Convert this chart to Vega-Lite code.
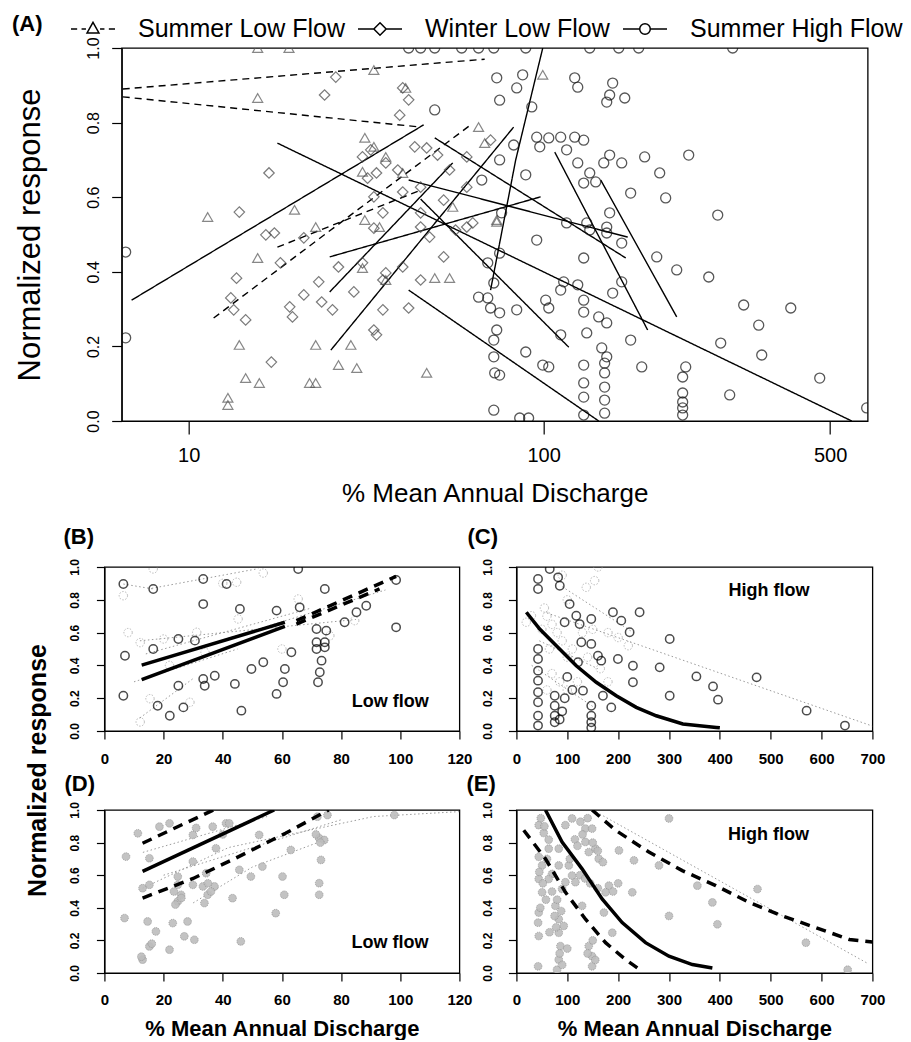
{
"$schema":"https://vega.github.io/schema/vega-lite/v6.json",
"padding":{"left":12,"top":6,"right":4,"bottom":0},
"background":"white",
"config":{
 "font":"Liberation Sans",
 "view":{"stroke":"#000","strokeWidth":1.3},
 "axis":{"grid":false,"domainColor":"#000","tickColor":"#000","labelColor":"#000","titleColor":"#000","labelFont":"Liberation Sans","titleFont":"Liberation Sans","labelOverlap":false,"labelFlush":false,"domainWidth":1.2,"tickWidth":1.2},
 "title":{"color":"#000","font":"Liberation Sans"}
},
"datasets":{
 "a_pts":[
  {"s":"Summer High Flow","x":45.1,"y":1},{"s":"Summer High Flow","x":48.5,"y":1},{"s":"Summer High Flow","x":52.8,"y":1},{"s":"Summer High Flow","x":62,"y":1},{"s":"Summer High Flow","x":68.5,"y":1},{"s":"Summer High Flow","x":74.9,"y":1},{"s":"Summer High Flow","x":90.2,"y":1},{"s":"Summer High Flow","x":130.2,"y":1},{"s":"Summer High Flow","x":153.5,"y":1},{"s":"Summer High Flow","x":171.8,"y":1},{"s":"Summer High Flow","x":291,"y":1},
  {"s":"Summer High Flow","x":76.2,"y":0.92},{"s":"Summer High Flow","x":88.6,"y":0.928},{"s":"Summer High Flow","x":85.6,"y":0.893},{"s":"Summer High Flow","x":77.5,"y":0.86},{"s":"Summer High Flow","x":93.4,"y":0.842},{"s":"Summer High Flow","x":52.8,"y":0.834},{"s":"Summer High Flow","x":119.5,"y":0.92},{"s":"Summer High Flow","x":121.6,"y":0.895},{"s":"Summer High Flow","x":148.3,"y":0.906},{"s":"Summer High Flow","x":145.8,"y":0.874},{"s":"Summer High Flow","x":158.8,"y":0.866},{"s":"Summer High Flow","x":143.4,"y":0.855},
  {"s":"Summer High Flow","x":96.1,"y":0.761},{"s":"Summer High Flow","x":103,"y":0.759},{"s":"Summer High Flow","x":110.3,"y":0.761},{"s":"Summer High Flow","x":119.5,"y":0.761},{"s":"Summer High Flow","x":125.8,"y":0.753},{"s":"Summer High Flow","x":97.8,"y":0.735},{"s":"Summer High Flow","x":114.1,"y":0.727},{"s":"Summer High Flow","x":84.1,"y":0.74},{"s":"Summer High Flow","x":145.8,"y":0.713},{"s":"Summer High Flow","x":141,"y":0.692},{"s":"Summer High Flow","x":156.1,"y":0.692},{"s":"Summer High Flow","x":177.7,"y":0.708},{"s":"Summer High Flow","x":227.6,"y":0.713},{"s":"Summer High Flow","x":121.6,"y":0.692},{"s":"Summer High Flow","x":193.4,"y":0.665},{"s":"Summer High Flow","x":130.2,"y":0.665},{"s":"Summer High Flow","x":134.7,"y":0.641},{"s":"Summer High Flow","x":125.8,"y":0.638},{"s":"Summer High Flow","x":164.2,"y":0.611},{"s":"Summer High Flow","x":200,"y":0.598},{"s":"Summer High Flow","x":145.8,"y":0.558},{"s":"Summer High Flow","x":267.7,"y":0.552},{"s":"Summer High Flow","x":69.8,"y":0.646},{"s":"Summer High Flow","x":77.5,"y":0.7},{"s":"Summer High Flow","x":90.2,"y":0.66},{"s":"Summer High Flow","x":78.4,"y":0.558},{"s":"Summer High Flow","x":130.2,"y":0.512},{"s":"Summer High Flow","x":143.4,"y":0.504},
  {"s":"Summer High Flow","x":5.62,"y":0.453},{"s":"Summer High Flow","x":5.62,"y":0.223},{"s":"Summer High Flow","x":128,"y":0.531},{"s":"Summer High Flow","x":143.4,"y":0.52},{"s":"Summer High Flow","x":156.1,"y":0.477},{"s":"Summer High Flow","x":190.2,"y":0.44},{"s":"Summer High Flow","x":212.8,"y":0.405},{"s":"Summer High Flow","x":254.6,"y":0.386},{"s":"Summer High Flow","x":309.4,"y":0.311},{"s":"Summer High Flow","x":402,"y":0.303},{"s":"Summer High Flow","x":336.4,"y":0.257},{"s":"Summer High Flow","x":272.2,"y":0.209},{"s":"Summer High Flow","x":342.1,"y":0.177},{"s":"Summer High Flow","x":472,"y":0.115},{"s":"Summer High Flow","x":286.2,"y":0.07},{"s":"Summer High Flow","x":612,"y":0.035},
  {"s":"Summer High Flow","x":125.8,"y":0.437},{"s":"Summer High Flow","x":121.6,"y":0.365},{"s":"Summer High Flow","x":125.8,"y":0.292},{"s":"Summer High Flow","x":128,"y":0.236},{"s":"Summer High Flow","x":125.8,"y":0.15},{"s":"Summer High Flow","x":125.8,"y":0.102},{"s":"Summer High Flow","x":125.8,"y":0.064},{"s":"Summer High Flow","x":125.8,"y":0.016},{"s":"Summer High Flow","x":139.4,"y":0.196},{"s":"Summer High Flow","x":141.7,"y":0.155},{"s":"Summer High Flow","x":141.7,"y":0.129},{"s":"Summer High Flow","x":141.7,"y":0.091},{"s":"Summer High Flow","x":141.7,"y":0.056},{"s":"Summer High Flow","x":141.7,"y":0.021},{"s":"Summer High Flow","x":143.4,"y":0.172},{"s":"Summer High Flow","x":164.2,"y":0.217},{"s":"Summer High Flow","x":174.8,"y":0.145},{"s":"Summer High Flow","x":223.8,"y":0.145},{"s":"Summer High Flow","x":220,"y":0.118},{"s":"Summer High Flow","x":220,"y":0.075},{"s":"Summer High Flow","x":220,"y":0.051},{"s":"Summer High Flow","x":220,"y":0.035},{"s":"Summer High Flow","x":220,"y":0.016},
  {"s":"Summer High Flow","x":110.3,"y":0.351},{"s":"Summer High Flow","x":112.2,"y":0.373},{"s":"Summer High Flow","x":101.2,"y":0.324},{"s":"Summer High Flow","x":103,"y":0.303},{"s":"Summer High Flow","x":110.3,"y":0.231},{"s":"Summer High Flow","x":125.8,"y":0.324},{"s":"Summer High Flow","x":137,"y":0.279},{"s":"Summer High Flow","x":143.4,"y":0.263},{"s":"Summer High Flow","x":148.3,"y":0.343},{"s":"Summer High Flow","x":156.1,"y":0.373},{"s":"Summer High Flow","x":90.2,"y":0.185},{"s":"Summer High Flow","x":99.5,"y":0.15},{"s":"Summer High Flow","x":103,"y":0.145},{"s":"Summer High Flow","x":74.9,"y":0.217},{"s":"Summer High Flow","x":76.2,"y":0.244},{"s":"Summer High Flow","x":74.9,"y":0.172},{"s":"Summer High Flow","x":75.3,"y":0.129},{"s":"Summer High Flow","x":77.5,"y":0.123},{"s":"Summer High Flow","x":74.9,"y":0.029},{"s":"Summer High Flow","x":87.1,"y":0.008},{"s":"Summer High Flow","x":91.7,"y":0.008},{"s":"Summer High Flow","x":68.5,"y":0.332},{"s":"Summer High Flow","x":72.3,"y":0.33},{"s":"Summer High Flow","x":77.5,"y":0.29},{"s":"Summer High Flow","x":73.5,"y":0.303},{"s":"Summer High Flow","x":85.6,"y":0.298},{"s":"Summer High Flow","x":74.9,"y":0.37},{"s":"Summer High Flow","x":72.3,"y":0.424},{"s":"Summer High Flow","x":77.5,"y":0.45},{"s":"Summer High Flow","x":96.1,"y":0.485},{"s":"Summer High Flow","x":114.1,"y":0.531},
  {"s":"Winter Low Flow","x":26.6,"y":0.874},{"s":"Winter Low Flow","x":28.6,"y":0.922},{"s":"Winter Low Flow","x":43.5,"y":0.893},{"s":"Winter Low Flow","x":45.1,"y":0.861},{"s":"Winter Low Flow","x":42.7,"y":0.82},{"s":"Winter Low Flow","x":46.8,"y":0.735},{"s":"Winter Low Flow","x":50.3,"y":0.732},{"s":"Winter Low Flow","x":53.7,"y":0.713},{"s":"Winter Low Flow","x":35.7,"y":0.727},{"s":"Winter Low Flow","x":33.9,"y":0.708},{"s":"Winter Low Flow","x":39.2,"y":0.692},{"s":"Winter Low Flow","x":37,"y":0.665},{"s":"Winter Low Flow","x":42.2,"y":0.673},{"s":"Winter Low Flow","x":35,"y":0.651},{"s":"Winter Low Flow","x":48.5,"y":0.627},{"s":"Winter Low Flow","x":43.5,"y":0.614},{"s":"Winter Low Flow","x":14.8,"y":0.56},{"s":"Winter Low Flow","x":18.3,"y":0.665},{"s":"Winter Low Flow","x":36.4,"y":0.601},{"s":"Winter Low Flow","x":38.5,"y":0.558},{"s":"Winter Low Flow","x":48.5,"y":0.558},{"s":"Winter Low Flow","x":66.2,"y":0.531},{"s":"Winter Low Flow","x":55.7,"y":0.592},{"s":"Winter Low Flow","x":63.9,"y":0.708},{"s":"Winter Low Flow","x":73.5,"y":0.753},{"s":"Winter Low Flow","x":57.7,"y":0.673},{"s":"Winter Low Flow","x":63.9,"y":0.627},
  {"s":"Winter Low Flow","x":19,"y":0.504},{"s":"Winter Low Flow","x":17.9,"y":0.499},{"s":"Winter Low Flow","x":23.2,"y":0.491},{"s":"Winter Low Flow","x":14.5,"y":0.383},{"s":"Winter Low Flow","x":13.9,"y":0.33},{"s":"Winter Low Flow","x":14.2,"y":0.298},{"s":"Winter Low Flow","x":15.5,"y":0.271},{"s":"Winter Low Flow","x":21.1,"y":0.306},{"s":"Winter Low Flow","x":21.5,"y":0.279},{"s":"Winter Low Flow","x":23.2,"y":0.338},{"s":"Winter Low Flow","x":25.6,"y":0.373},{"s":"Winter Low Flow","x":26.1,"y":0.319},{"s":"Winter Low Flow","x":28,"y":0.298},{"s":"Winter Low Flow","x":32.1,"y":0.346},{"s":"Winter Low Flow","x":38.5,"y":0.378},{"s":"Winter Low Flow","x":39.2,"y":0.397},{"s":"Winter Low Flow","x":43.5,"y":0.413},{"s":"Winter Low Flow","x":48.5,"y":0.378},{"s":"Winter Low Flow","x":45.1,"y":0.303},{"s":"Winter Low Flow","x":36.4,"y":0.244},{"s":"Winter Low Flow","x":37,"y":0.231},{"s":"Winter Low Flow","x":38.5,"y":0.298},{"s":"Winter Low Flow","x":18.6,"y":0.158},{"s":"Winter Low Flow","x":55.7,"y":0.44},{"s":"Winter Low Flow","x":51.2,"y":0.493},{"s":"Winter Low Flow","x":19.8,"y":0.424},{"s":"Winter Low Flow","x":36.4,"y":0.517},{"s":"Winter Low Flow","x":48.5,"y":0.52},{"s":"Winter Low Flow","x":59.8,"y":0.512},{"s":"Winter Low Flow","x":63.9,"y":0.52},{"s":"Winter Low Flow","x":33.9,"y":0.424},{"s":"Winter Low Flow","x":29.1,"y":0.413},
  {"s":"Summer Low Flow","x":16.9,"y":0.866},{"s":"Summer Low Flow","x":11.65,"y":0.547},{"s":"Summer Low Flow","x":21.8,"y":0.566},{"s":"Summer Low Flow","x":36.4,"y":0.941},{"s":"Summer Low Flow","x":44.3,"y":0.893},{"s":"Summer Low Flow","x":99.5,"y":0.928},{"s":"Summer Low Flow","x":68.5,"y":0.788},{"s":"Summer Low Flow","x":34.4,"y":0.759},{"s":"Summer Low Flow","x":36.4,"y":0.735},{"s":"Summer Low Flow","x":33.9,"y":0.668},{"s":"Summer Low Flow","x":71,"y":0.745},{"s":"Summer Low Flow","x":58.8,"y":0.574},{"s":"Summer Low Flow","x":76.2,"y":0.534},{"s":"Summer Low Flow","x":25.1,"y":0.52},{"s":"Summer Low Flow","x":43.5,"y":0.665},{"s":"Summer Low Flow","x":39.2,"y":0.708},{"s":"Summer Low Flow","x":16.9,"y":0.437},{"s":"Summer Low Flow","x":14.8,"y":0.204},{"s":"Summer Low Flow","x":15.5,"y":0.115},{"s":"Summer Low Flow","x":17.1,"y":0.102},{"s":"Summer Low Flow","x":13.6,"y":0.062},{"s":"Summer Low Flow","x":13.6,"y":0.043},{"s":"Summer Low Flow","x":24.1,"y":0.102},{"s":"Summer Low Flow","x":25.1,"y":0.102},{"s":"Summer Low Flow","x":25.1,"y":0.204},{"s":"Summer Low Flow","x":31.5,"y":0.204},{"s":"Summer Low Flow","x":29.1,"y":0.15},{"s":"Summer Low Flow","x":32.7,"y":0.142},{"s":"Summer Low Flow","x":50.3,"y":0.129},{"s":"Summer Low Flow","x":52.8,"y":0.383},{"s":"Summer Low Flow","x":57.7,"y":0.383},{"s":"Summer Low Flow","x":33.9,"y":0.41},{"s":"Summer Low Flow","x":39.2,"y":0.378},{"s":"Summer Low Flow","x":76.2,"y":0.539},{"s":"Summer Low Flow","x":34.4,"y":0.539},{"s":"Summer Low Flow","x":37.7,"y":0.52},{"s":"Summer Low Flow","x":16.9,"y":1},{"s":"Summer Low Flow","x":21,"y":1}
 ],
 "a_lines":[
  {"id":"S1","st":"solid","x":5.97,"y":0.324},{"id":"S1","st":"solid","x":49.4,"y":0.794},
  {"id":"S2","st":"solid","x":19.4,"y":0.745},{"id":"S2","st":"solid","x":563.5,"y":0.0},
  {"id":"S3","st":"solid","x":27.5,"y":0.44},{"id":"S3","st":"solid","x":98.3,"y":0.601},
  {"id":"S4","st":"solid","x":27.5,"y":0.346},{"id":"S4","st":"solid","x":58.8,"y":0.692},
  {"id":"S5","st":"solid","x":27.7,"y":0.19},{"id":"S5","st":"solid","x":84.1,"y":0.788},
  {"id":"S6","st":"solid","x":45.1,"y":0.351},{"id":"S6","st":"solid","x":137,"y":0.0},
  {"id":"S7","st":"solid","x":48.5,"y":0.595},{"id":"S7","st":"solid","x":115.5,"y":0.198},
  {"id":"S8","st":"solid","x":45.1,"y":0.646},{"id":"S8","st":"solid","x":161.5,"y":0.493},
  {"id":"S9","st":"solid","x":52.8,"y":0.759},{"id":"S9","st":"solid","x":159.7,"y":0.437},
  {"id":"S10","st":"solid","x":106.6,"y":0.721},{"id":"S10","st":"solid","x":180.7,"y":0.244},
  {"id":"S11","st":"solid","x":138.6,"y":0.646},{"id":"S11","st":"solid","x":212.8,"y":0.279},
  {"id":"S12","st":"solid","x":73.5,"y":0.351},{"id":"S12","st":"solid","x":85.1,"y":0.7},{"id":"S12","st":"solid","x":99.5,"y":1.0},
  {"id":"D1","st":"dashed","x":5.45,"y":0.89},{"id":"D1","st":"dashed","x":71,"y":0.97},
  {"id":"D2","st":"dashed","x":5.45,"y":0.869},{"id":"D2","st":"dashed","x":48.5,"y":0.788},
  {"id":"D3","st":"dashed","x":12.2,"y":0.276},{"id":"D3","st":"dashed","x":65.4,"y":0.794},
  {"id":"D4","st":"dashed","x":19.4,"y":0.466},{"id":"D4","st":"dashed","x":48.5,"y":0.619}
 ],
 "b_pts":[
  {"k":"d","x":6.4,"y":0.896},{"k":"d","x":16.5,"y":0.866},{"k":"d","x":33.4,"y":0.927},{"k":"d","x":41.3,"y":0.896},{"k":"d","x":65.5,"y":0.988},{"k":"d","x":74.5,"y":0.866},{"k":"d","x":98.6,"y":0.921},{"k":"d","x":33.4,"y":0.774},{"k":"d","x":45.8,"y":0.744},{"k":"d","x":58.2,"y":0.734},{"k":"d","x":66,"y":0.754},{"k":"d","x":6.95,"y":0.459},{"k":"d","x":16.5,"y":0.5},{"k":"d","x":25,"y":0.561},{"k":"d","x":30.6,"y":0.551},{"k":"d","x":6.4,"y":0.215},{"k":"d","x":18,"y":0.154},{"k":"d","x":22.1,"y":0.093},{"k":"d","x":26.7,"y":0.144},{"k":"d","x":25,"y":0.276},{"k":"d","x":33.4,"y":0.317},{"k":"d","x":33.9,"y":0.276},{"k":"d","x":37.3,"y":0.337},{"k":"d","x":44.1,"y":0.287},{"k":"d","x":46.3,"y":0.124},{"k":"d","x":49.7,"y":0.378},{"k":"d","x":53.7,"y":0.419},{"k":"d","x":58.2,"y":0.226},{"k":"d","x":60.4,"y":0.297},{"k":"d","x":61,"y":0.378},{"k":"d","x":63.2,"y":0.48},{"k":"d","x":72.2,"y":0.297},{"k":"d","x":72.8,"y":0.358},{"k":"d","x":73.4,"y":0.429},{"k":"d","x":74.5,"y":0.51},{"k":"d","x":71.7,"y":0.5},{"k":"d","x":71.7,"y":0.622},{"k":"d","x":75,"y":0.612},{"k":"d","x":81.2,"y":0.663},{"k":"d","x":85.2,"y":0.724},{"k":"d","x":88.5,"y":0.764},{"k":"d","x":98.6,"y":0.632},{"k":"d","x":71.7,"y":0.541},{"k":"d","x":74.5,"y":0.541},
  {"k":"g","x":6.4,"y":0.825},{"k":"g","x":12.1,"y":0.539},{"k":"g","x":20,"y":0.561},{"k":"g","x":31.2,"y":0.602},{"k":"g","x":45.2,"y":0.683},{"k":"g","x":65.5,"y":0.805},{"k":"g","x":15.4,"y":0.197},{"k":"g","x":12.1,"y":0.055},{"k":"g","x":28.9,"y":0.175},{"k":"g","x":44.7,"y":0.907},{"k":"g","x":84.6,"y":0.673},{"k":"g","x":76.2,"y":0.581},{"k":"g","x":16.5,"y":0.988},{"k":"g","x":53.7,"y":0.963},{"k":"g","x":34,"y":0.48},{"k":"g","x":40,"y":0.9},{"k":"g","x":22,"y":0.4},{"k":"g","x":60,"y":0.5},{"k":"g","x":8,"y":0.6}
 ],
 "b_lines":[
  {"id":"b1","k":"fit","x":12.6,"y":0.402},{"id":"b1","k":"fit","x":61,"y":0.663},
  {"id":"b2","k":"fit","x":12.6,"y":0.313},{"id":"b2","k":"fit","x":61,"y":0.638},
  {"id":"b3","k":"dash","x":64.9,"y":0.673},{"id":"b3","k":"dash","x":98.6,"y":0.943},
  {"id":"b4","k":"dash","x":64.9,"y":0.652},{"id":"b4","k":"dash","x":93,"y":0.866},
  {"id":"g1","k":"gray","x":6.4,"y":0.896},{"id":"g1","k":"gray","x":16.5,"y":0.866},
  {"id":"g2","k":"gray","x":16,"y":0.87},{"id":"g2","k":"gray","x":52,"y":0.99},
  {"id":"g3","k":"gray","x":12,"y":0.55},{"id":"g3","k":"gray","x":85,"y":0.68},
  {"id":"g4","k":"gray","x":14,"y":0.47},{"id":"g4","k":"gray","x":70,"y":0.75},
  {"id":"g5","k":"gray","x":12,"y":0.08},{"id":"g5","k":"gray","x":30,"y":0.32},
  {"id":"g6","k":"gray","x":30,"y":0.5},{"id":"g6","k":"gray","x":95,"y":0.86},
  {"id":"g7","k":"gray","x":10,"y":0.3},{"id":"g7","k":"gray","x":45,"y":0.5}
 ],
 "c_pts":[
  {"k":"d","x":42.5,"y":0.927},{"k":"d","x":42.5,"y":0.866},{"k":"d","x":42.5,"y":0.5},{"k":"d","x":42.5,"y":0.439},{"k":"d","x":42.5,"y":0.368},{"k":"d","x":42.5,"y":0.307},{"k":"d","x":42.5,"y":0.236},{"k":"d","x":42.5,"y":0.175},{"k":"d","x":42.5,"y":0.093},{"k":"d","x":42.5,"y":0.033},
  {"k":"d","x":75.3,"y":0.154},{"k":"d","x":75.3,"y":0.093},{"k":"d","x":75.3,"y":0.053},{"k":"d","x":75.3,"y":0.215},{"k":"d","x":85,"y":0.07},{"k":"d","x":90,"y":0.12},{"k":"d","x":95,"y":0.2},{"k":"d","x":100,"y":0.33},{"k":"d","x":110,"y":0.25},
  {"k":"d","x":65.5,"y":0.988},{"k":"d","x":82,"y":0.937},{"k":"d","x":85.3,"y":0.886},{"k":"d","x":94.8,"y":0.663},{"k":"d","x":104.6,"y":0.774},{"k":"d","x":117.7,"y":0.703},{"k":"d","x":124.3,"y":0.652},{"k":"d","x":147.2,"y":0.683},{"k":"d","x":127.6,"y":0.541},{"k":"d","x":147.2,"y":0.531},{"k":"d","x":160.3,"y":0.459},{"k":"d","x":166.8,"y":0.429},{"k":"d","x":121.1,"y":0.419},{"k":"d","x":130.9,"y":0.246},{"k":"d","x":170.1,"y":0.215},{"k":"d","x":186.5,"y":0.144},{"k":"d","x":189.8,"y":0.724},{"k":"d","x":206.2,"y":0.673},{"k":"d","x":222.6,"y":0.602},{"k":"d","x":199.6,"y":0.439},{"k":"d","x":229.1,"y":0.398},{"k":"d","x":229.1,"y":0.297},{"k":"d","x":242.2,"y":0.724},{"k":"d","x":147.2,"y":0.154},{"k":"d","x":147.2,"y":0.093},{"k":"d","x":147.2,"y":0.053},{"k":"d","x":147.2,"y":0.02},
  {"k":"d","x":301.4,"y":0.561},{"k":"d","x":281.7,"y":0.388},{"k":"d","x":353.9,"y":0.333},{"k":"d","x":386.6,"y":0.272},{"k":"d","x":396.4,"y":0.191},{"k":"d","x":301.4,"y":0.215},{"k":"d","x":472.3,"y":0.327},{"k":"d","x":570.6,"y":0.124},{"k":"d","x":646,"y":0.033},
  {"k":"g","x":29.5,"y":0.703},{"k":"g","x":19.4,"y":0.663},{"k":"g","x":160.3,"y":1.0},{"k":"g","x":153.8,"y":0.917},{"k":"g","x":137.4,"y":0.876},{"k":"g","x":60,"y":0.7},{"k":"g","x":70,"y":0.65},{"k":"g","x":80,"y":0.6},{"k":"g","x":65,"y":0.5},{"k":"g","x":90,"y":0.55},{"k":"g","x":100,"y":0.45},{"k":"g","x":110,"y":0.5},{"k":"g","x":70,"y":0.35},{"k":"g","x":85,"y":0.3},{"k":"g","x":100,"y":0.25},{"k":"g","x":120,"y":0.3},{"k":"g","x":60,"y":0.25},{"k":"g","x":130,"y":0.6},{"k":"g","x":150,"y":0.62},{"k":"g","x":140,"y":0.45},{"k":"g","x":165,"y":0.38},{"k":"g","x":180,"y":0.6},{"k":"g","x":200,"y":0.57},{"k":"g","x":220,"y":0.52},{"k":"g","x":55,"y":0.75},{"k":"g","x":50,"y":0.62},{"k":"g","x":100,"y":0.8},{"k":"g","x":90,"y":0.95},{"k":"g","x":180,"y":0.3}
 ],
 "c_lines":[
  {"id":"c1","k":"fit","x":19.5,"y":0.724},{"id":"c1","k":"fit","x":45.8,"y":0.622},{"id":"c1","k":"fit","x":78.5,"y":0.52},{"id":"c1","k":"fit","x":117.7,"y":0.398},{"id":"c1","k":"fit","x":157,"y":0.297},{"id":"c1","k":"fit","x":196.3,"y":0.215},{"id":"c1","k":"fit","x":235.6,"y":0.144},{"id":"c1","k":"fit","x":274.9,"y":0.093},{"id":"c1","k":"fit","x":327.3,"y":0.043},{"id":"c1","k":"fit","x":392.9,"y":0.022},{"id":"c1","k":"fit","x":400,"y":0.02},
  {"id":"cg1","k":"gray","x":60,"y":0.72},{"id":"cg1","k":"gray","x":700,"y":0.03},
  {"id":"cg2","k":"gray","x":90,"y":0.88},{"id":"cg2","k":"gray","x":230,"y":0.6},
  {"id":"cg3","k":"gray","x":45,"y":0.55},{"id":"cg3","k":"gray","x":160,"y":0.38},
  {"id":"cg4","k":"gray","x":30,"y":0.4},{"id":"cg4","k":"gray","x":150,"y":0.15}
 ],
 "d_pts":[
  {"x":11.3,"y":0.857},{"x":7.3,"y":0.714},{"x":15.2,"y":0.704},{"x":18.6,"y":0.898},{"x":22,"y":0.918},{"x":29.9,"y":0.847},{"x":36.6,"y":0.898},{"x":41.1,"y":0.918},{"x":37.7,"y":0.765},{"x":29.9,"y":0.684},{"x":34.4,"y":0.612},{"x":29.9,"y":0.541},{"x":24.8,"y":0.592},{"x":24.8,"y":0.541},{"x":24.8,"y":0.439},{"x":25.9,"y":0.48},{"x":12.9,"y":0.52},{"x":15.2,"y":0.541},{"x":33.3,"y":0.531},{"x":34.9,"y":0.48},{"x":37.2,"y":0.531},{"x":33.8,"y":0.429},{"x":43.3,"y":0.459},{"x":45.6,"y":0.633},{"x":49.5,"y":0.592},{"x":53.4,"y":0.653},{"x":60.2,"y":0.592},{"x":60.8,"y":0.48},{"x":63,"y":0.755},{"x":52.3,"y":0.847},{"x":42.2,"y":0.918},{"x":72.6,"y":0.827},{"x":74.3,"y":0.816},{"x":73.2,"y":0.694},{"x":72.6,"y":0.551},{"x":72.6,"y":0.48},{"x":57.9,"y":0.367},{"x":72,"y":0.959},{"x":75.4,"y":0.969},{"x":6.8,"y":0.337},{"x":14.6,"y":0.316},{"x":17.4,"y":0.255},{"x":15.2,"y":0.163},{"x":12.9,"y":0.082},{"x":22,"y":0.143},{"x":23.1,"y":0.306},{"x":28.1,"y":0.316},{"x":27,"y":0.225},{"x":30.4,"y":0.204},{"x":46.1,"y":0.194},{"x":98,"y":0.969},{"x":23.5,"y":0.5},{"x":26,"y":0.46},{"x":24,"y":0.42},{"x":36,"y":0.5},{"x":35,"y":0.55},{"x":73,"y":0.8},{"x":71.5,"y":0.85},{"x":12.5,"y":0.1},{"x":16,"y":0.18},{"x":40,"y":0.85},{"x":31,"y":0.89}
 ],
 "d_lines":[
  {"id":"d1","k":"fit","x":12.9,"y":0.623},{"id":"d1","k":"fit","x":57.4,"y":1.0},
  {"id":"d2","k":"dash","x":12.9,"y":0.796},{"id":"d2","k":"dash","x":36.8,"y":1.0},
  {"id":"d3","k":"dash","x":12.9,"y":0.46},{"id":"d3","k":"dash","x":30,"y":0.58},{"id":"d3","k":"dash","x":44.3,"y":0.704},{"id":"d3","k":"dash","x":61.2,"y":0.857},{"id":"d3","k":"dash","x":75.8,"y":1.0},
  {"id":"dg1","k":"gray","x":12.9,"y":0.52},{"id":"dg1","k":"gray","x":42,"y":0.77},{"id":"dg1","k":"gray","x":91,"y":0.96},{"id":"dg1","k":"gray","x":120,"y":0.99},
  {"id":"dg2","k":"gray","x":13,"y":0.74},{"id":"dg2","k":"gray","x":55,"y":0.96},
  {"id":"dg3","k":"gray","x":30,"y":0.43},{"id":"dg3","k":"gray","x":50,"y":0.65},{"id":"dg3","k":"gray","x":75,"y":0.82},
  {"id":"dg4","k":"gray","x":20,"y":0.6},{"id":"dg4","k":"gray","x":80,"y":0.94}
 ],
 "e_pts":[
  {"x":43.9,"y":0.907},{"x":53.7,"y":0.859},{"x":63.5,"y":0.818},{"x":43.9,"y":0.713},{"x":50.5,"y":0.66},{"x":43.9,"y":0.577},{"x":50.5,"y":0.495},{"x":43.9,"y":0.371},{"x":42.6,"y":0.309},{"x":43.9,"y":0.227},{"x":42.6,"y":0.041},{"x":63.5,"y":0.763},{"x":70.1,"y":0.608},{"x":83.2,"y":0.763},{"x":83.2,"y":0.66},{"x":83.2,"y":0.33},{"x":83.2,"y":0.247},{"x":86.5,"y":0.165},{"x":83.2,"y":0.082},{"x":79.9,"y":0.02},{"x":93,"y":0.289},{"x":76.6,"y":0.412},{"x":63.5,"y":0.577},
  {"x":48,"y":0.95},{"x":55,"y":0.9},{"x":60,"y":0.7},{"x":45,"y":0.62},{"x":52,"y":0.55},{"x":58,"y":0.45},{"x":47,"y":0.4},{"x":70,"y":0.5},{"x":75,"y":0.35},{"x":80,"y":0.45},{"x":85,"y":0.12},{"x":90,"y":0.05},{"x":78,"y":0.28},{"x":88,"y":0.38},{"x":65,"y":0.25},{"x":100,"y":0.15},
  {"x":96.3,"y":0.907},{"x":109.4,"y":0.948},{"x":125.8,"y":0.928},{"x":135.6,"y":0.886},{"x":148.8,"y":0.886},{"x":135.6,"y":0.804},{"x":142.2,"y":0.742},{"x":155.3,"y":0.763},{"x":161.8,"y":0.701},{"x":103,"y":0.66},{"x":109.4,"y":0.598},{"x":116,"y":0.557},{"x":96.3,"y":0.557},{"x":89.8,"y":0.516},{"x":181.9,"y":0.536},{"x":175.3,"y":0.495},{"x":172,"y":0.371},{"x":188.5,"y":0.247},{"x":129.1,"y":0.412},{"x":148.8,"y":0.103},{"x":148.8,"y":0.041},{"x":142.2,"y":0.165},
  {"x":115,"y":0.82},{"x":120,"y":0.78},{"x":130,"y":0.85},{"x":140,"y":0.95},{"x":150,"y":0.8},{"x":160,"y":0.75},{"x":170,"y":0.68},{"x":105,"y":0.7},{"x":125,"y":0.6},{"x":135,"y":0.58},{"x":145,"y":0.55},{"x":160,"y":0.52},{"x":190,"y":0.5},{"x":200,"y":0.55},{"x":150,"y":0.2},{"x":155,"y":0.08},{"x":140,"y":0.12},
  {"x":227.8,"y":0.495},{"x":201.6,"y":0.752},{"x":231.1,"y":0.691},{"x":280.3,"y":0.66},{"x":300,"y":0.948},{"x":300,"y":0.35},{"x":355.8,"y":0.536},{"x":385.3,"y":0.433},{"x":395.2,"y":0.299},{"x":474,"y":0.515},{"x":569.2,"y":0.186},{"x":651.3,"y":0.02}
 ],
 "e_lines":[
  {"id":"e1","k":"fit","x":57.1,"y":1.0},{"id":"e1","k":"fit","x":89.8,"y":0.804},{"id":"e1","k":"fit","x":129.1,"y":0.639},{"id":"e1","k":"fit","x":168.5,"y":0.454},{"id":"e1","k":"fit","x":207.9,"y":0.309},{"id":"e1","k":"fit","x":253.9,"y":0.186},{"id":"e1","k":"fit","x":299.9,"y":0.103},{"id":"e1","k":"fit","x":345.9,"y":0.052},{"id":"e1","k":"fit","x":385.3,"y":0.031},
  {"id":"e2","k":"dash","x":14.4,"y":0.876},{"id":"e2","k":"dash","x":57.1,"y":0.701},{"id":"e2","k":"dash","x":96.5,"y":0.495},{"id":"e2","k":"dash","x":135.9,"y":0.33},{"id":"e2","k":"dash","x":175.3,"y":0.186},{"id":"e2","k":"dash","x":214.7,"y":0.082},{"id":"e2","k":"dash","x":237.7,"y":0.031},
  {"id":"e3","k":"dash","x":148.8,"y":1.0},{"id":"e3","k":"dash","x":194.8,"y":0.876},{"id":"e3","k":"dash","x":260.5,"y":0.742},{"id":"e3","k":"dash","x":326.2,"y":0.628},{"id":"e3","k":"dash","x":391.9,"y":0.536},{"id":"e3","k":"dash","x":457.5,"y":0.433},{"id":"e3","k":"dash","x":523.2,"y":0.35},{"id":"e3","k":"dash","x":588.9,"y":0.278},{"id":"e3","k":"dash","x":654.5,"y":0.206},{"id":"e3","k":"dash","x":700,"y":0.19},
  {"id":"eg1","k":"gray","x":150,"y":1.0},{"id":"eg1","k":"gray","x":690,"y":0.06}
 ]
},
"spacing":18,
"center":true,
"vconcat":[
 {
  "width":746,"height":373,
  "encoding":{
   "x":{"field":"x","type":"quantitative","scale":{"type":"symlog","constant":5,"domain":[5.39,615.4],"nice":false,"zero":false},
        "axis":{"values":[10,100,500],"format":"d","labelFontSize":20,"tickSize":13,"labelPadding":11,"title":"% Mean Annual Discharge","titleFontSize":26,"titleFontWeight":"normal","titlePadding":15}},
   "y":{"field":"y","type":"quantitative","scale":{"domain":[0,1],"nice":false},
        "axis":{"values":[0,0.2,0.4,0.6,0.8,1],"format":".1f","labelAngle":-90,"labelAlign":"center","labelBaseline":"bottom","labelFontSize":16,"tickSize":10,"labelPadding":10,"title":"Normalized response","titleFontSize":31,"titleFontWeight":"normal","titleAngle":-90,"titleX":-91,"titleY":186.5,"titleAlign":"center","titleBaseline":"middle"}}
  },
  "layer":[
   {"data":{"name":"a_lines"},"mark":{"type":"line","clip":true,"color":"#000","strokeWidth":1.4},
    "encoding":{"detail":{"field":"id"},"strokeDash":{"field":"st","type":"nominal","scale":{"domain":["solid","dashed"],"range":[[1,0],[7,5]]},"legend":null}}},
   {"data":{"name":"a_pts"},"transform":[{"filter":"datum.s === 'Summer Low Flow'"}],"mark":{"type":"point","shape":"triangle-up","clip":true,"filled":false,"size":100,"strokeWidth":1.2,"color":"#555"}},
   {"data":{"name":"a_pts"},"transform":[{"filter":"datum.s === 'Winter Low Flow'"}],"mark":{"type":"point","shape":"diamond","clip":true,"filled":false,"size":110,"strokeWidth":1.2,"color":"#444"}},
   {"data":{"name":"a_pts"},"transform":[{"filter":"datum.s === 'Summer High Flow'"}],"mark":{"type":"point","shape":"circle","clip":true,"filled":false,"size":100,"strokeWidth":1.3,"color":"#111"}},
   {"data":{"name":"a_pts"},"mark":{"type":"point","clip":true,"filled":false,"size":100,"opacity":0,"color":"#000"},
    "encoding":{
     "shape":{"field":"s","type":"nominal","scale":{"domain":["Summer Low Flow","Winter Low Flow","Summer High Flow"],
       "range":["M-1,0L-0.72,0M-0.52,0L-0.32,0M0.32,0L0.52,0M0.72,0L1,0M0,-0.3L0.27,0.18L-0.27,0.18Z","M-1,0L-0.28,0M0.28,0L1,0M0,-0.28L0.28,0L0,0.28L-0.28,0Z","M-1,0L-0.24,0M0.24,0L1,0M0.24,0A0.24,0.24,0,1,1,-0.24,0A0.24,0.24,0,1,1,0.24,0Z"]},
      "legend":{"orient":"none","legendX":-92,"legendY":-42,"direction":"horizontal","title":"(A)","titleOrient":"left","titleAnchor":"middle","titleBaseline":"middle","titleFontSize":22,"titleFontWeight":"bold","titleFont":"Liberation Sans","titleColor":"#000","titlePadding":27,
       "labelFontSize":25,"labelFont":"Liberation Sans","labelColor":"#000","labelLimit":400,"labelOffset":22,"columnPadding":10,"symbolSize":1936,"symbolStrokeWidth":1.5,"symbolStrokeColor":"#000","symbolFillColor":"transparent","symbolOpacity":1}}
    }}
  ]
 },
 {
  "spacing":-8,
  "hconcat":[
   {
    "bounds":"flush","spacing":79,
    "vconcat":[
     {
      "width":355,"height":164,
      "title":{"text":"(B)","anchor":"start","frame":"group","dx":-41,"offset":-12,"fontSize":22,"fontWeight":"bold","baseline":"bottom"},
      "encoding":{
       "x":{"field":"x","type":"quantitative","scale":{"domain":[0,120],"nice":false,"zero":false},"axis":{"values":[0,20,40,60,80,100,120],"labelFontSize":15,"labelFontWeight":"bold","tickSize":8,"labelPadding":12,"title":null}},
       "y":{"field":"y","type":"quantitative","scale":{"domain":[0,1],"nice":false},"axis":{"values":[0,0.2,0.4,0.6,0.8,1],"format":".1f","labelAngle":-90,"labelAlign":"center","labelBaseline":"bottom","labelFontSize":12,"labelFontWeight":"bold","tickSize":8,"labelPadding":15,"title":"Normalized response","titleFontSize":25,"titleFontWeight":"bold","titleAngle":-90,"titleX":-67,"titleY":203,"titleAlign":"center","titleBaseline":"middle"}}
      },
      "layer":[
       {"data":{"name":"b_lines"},"transform":[{"filter":"datum.k === 'gray'"}],"mark":{"type":"line","clip":true,"color":"#9a9a9a","strokeWidth":1,"strokeDash":[1.5,2.5]},"encoding":{"detail":{"field":"id"}}},
       {"data":{"name":"b_pts"},"transform":[{"filter":"datum.k === 'g'"}],"mark":{"type":"point","shape":"circle","filled":false,"color":"#999","size":70,"strokeWidth":1,"strokeDash":[1.5,1.5],"clip":true}},
       {"data":{"name":"b_pts"},"transform":[{"filter":"datum.k === 'd'"}],"mark":{"type":"point","shape":"circle","filled":false,"color":"#000","size":70,"strokeWidth":1.5,"clip":true}},
       {"data":{"name":"b_lines"},"transform":[{"filter":"datum.k === 'fit'"}],"mark":{"type":"line","clip":true,"color":"#000","strokeWidth":3.5},"encoding":{"detail":{"field":"id"}}},
       {"data":{"name":"b_lines"},"transform":[{"filter":"datum.k === 'dash'"}],"mark":{"type":"line","clip":true,"color":"#000","strokeWidth":3.5,"strokeDash":[10,7]},"encoding":{"detail":{"field":"id"}}},
       {"data":{"values":[{"x":96.6,"y":0.175,"t":"Low flow"}]},"mark":{"type":"text","fontSize":18,"fontWeight":"bold","color":"#000"},"encoding":{"text":{"field":"t"}}}
      ]
     },
     {
      "width":355,"height":163,
      "title":{"text":"(D)","anchor":"start","frame":"group","dx":-40,"offset":-16,"fontSize":22,"fontWeight":"bold","baseline":"bottom"},
      "encoding":{
       "x":{"field":"x","type":"quantitative","scale":{"domain":[0,120],"nice":false,"zero":false},"axis":{"values":[0,20,40,60,80,100,120],"labelFontSize":15,"labelFontWeight":"bold","tickSize":8,"labelPadding":11,"title":"% Mean Annual Discharge","titleFontSize":22,"titleFontWeight":"bold","titlePadding":11}},
       "y":{"field":"y","type":"quantitative","scale":{"domain":[0,1],"nice":false},"axis":{"values":[0,0.2,0.4,0.6,0.8,1],"format":".1f","labelAngle":-90,"labelAlign":"center","labelBaseline":"bottom","labelFontSize":12,"labelFontWeight":"bold","tickSize":8,"labelPadding":15,"title":null}}
      },
      "layer":[
       {"data":{"name":"d_lines"},"transform":[{"filter":"datum.k === 'gray'"}],"mark":{"type":"line","clip":true,"color":"#9a9a9a","strokeWidth":1,"strokeDash":[1.5,2.5]},"encoding":{"detail":{"field":"id"}}},
       {"data":{"name":"d_pts"},"mark":{"type":"point","shape":"circle","filled":true,"color":"#bdbdbd","opacity":0.9,"size":60,"stroke":"#888","strokeWidth":0.8,"strokeDash":[1,1],"clip":true}},
       {"data":{"name":"d_lines"},"transform":[{"filter":"datum.k === 'fit'"}],"mark":{"type":"line","clip":true,"color":"#000","strokeWidth":3.5},"encoding":{"detail":{"field":"id"}}},
       {"data":{"name":"d_lines"},"transform":[{"filter":"datum.k === 'dash'"}],"mark":{"type":"line","clip":true,"color":"#000","strokeWidth":3.5,"strokeDash":[10,7]},"encoding":{"detail":{"field":"id"}}},
       {"data":{"values":[{"x":96.5,"y":0.184,"t":"Low flow"}]},"mark":{"type":"text","fontSize":18,"fontWeight":"bold","color":"#000"},"encoding":{"text":{"field":"t"}}}
      ]
     }
    ]
   },
   {
    "bounds":"flush","spacing":79,
    "vconcat":[
     {
      "width":356,"height":164,
      "title":{"text":"(C)","anchor":"start","frame":"group","dx":-49,"offset":-12,"fontSize":22,"fontWeight":"bold","baseline":"bottom"},
      "encoding":{
       "x":{"field":"x","type":"quantitative","scale":{"domain":[0,700],"nice":false,"zero":false},"axis":{"values":[0,100,200,300,400,500,600,700],"labelFontSize":15,"labelFontWeight":"bold","tickSize":8,"labelPadding":12,"title":null}},
       "y":{"field":"y","type":"quantitative","scale":{"domain":[0,1],"nice":false},"axis":{"values":[0,0.2,0.4,0.6,0.8,1],"format":".1f","labelAngle":-90,"labelAlign":"center","labelBaseline":"bottom","labelFontSize":12,"labelFontWeight":"bold","tickSize":8,"labelPadding":14,"title":null}}
      },
      "layer":[
       {"data":{"name":"c_lines"},"transform":[{"filter":"datum.k === 'gray'"}],"mark":{"type":"line","clip":true,"color":"#9a9a9a","strokeWidth":1,"strokeDash":[1.5,2.5]},"encoding":{"detail":{"field":"id"}}},
       {"data":{"name":"c_pts"},"transform":[{"filter":"datum.k === 'g'"}],"mark":{"type":"point","shape":"circle","filled":false,"color":"#999","size":70,"strokeWidth":1,"strokeDash":[1.5,1.5],"clip":true}},
       {"data":{"name":"c_pts"},"transform":[{"filter":"datum.k === 'd'"}],"mark":{"type":"point","shape":"circle","filled":false,"color":"#000","size":70,"strokeWidth":1.5,"clip":true}},
       {"data":{"name":"c_lines"},"transform":[{"filter":"datum.k === 'fit'"}],"mark":{"type":"line","clip":true,"color":"#000","strokeWidth":3.5},"encoding":{"detail":{"field":"id"}}},
       {"data":{"values":[{"x":496.7,"y":0.855,"t":"High flow"}]},"mark":{"type":"text","fontSize":18,"fontWeight":"bold","color":"#000"},"encoding":{"text":{"field":"t"}}}
      ]
     },
     {
      "width":356,"height":163,
      "title":{"text":"(E)","anchor":"start","frame":"group","dx":-50,"offset":-16,"fontSize":22,"fontWeight":"bold","baseline":"bottom"},
      "encoding":{
       "x":{"field":"x","type":"quantitative","scale":{"domain":[0,700],"nice":false,"zero":false},"axis":{"values":[0,100,200,300,400,500,600,700],"labelFontSize":15,"labelFontWeight":"bold","tickSize":8,"labelPadding":11,"title":"% Mean Annual Discharge","titleFontSize":22,"titleFontWeight":"bold","titlePadding":11}},
       "y":{"field":"y","type":"quantitative","scale":{"domain":[0,1],"nice":false},"axis":{"values":[0,0.2,0.4,0.6,0.8,1],"format":".1f","labelAngle":-90,"labelAlign":"center","labelBaseline":"bottom","labelFontSize":12,"labelFontWeight":"bold","tickSize":8,"labelPadding":14,"title":null}}
      },
      "layer":[
       {"data":{"name":"e_lines"},"transform":[{"filter":"datum.k === 'gray'"}],"mark":{"type":"line","clip":true,"color":"#9a9a9a","strokeWidth":1,"strokeDash":[1.5,2.5]},"encoding":{"detail":{"field":"id"}}},
       {"data":{"name":"e_pts"},"mark":{"type":"point","shape":"circle","filled":true,"color":"#bdbdbd","opacity":0.9,"size":60,"stroke":"#888","strokeWidth":0.8,"strokeDash":[1,1],"clip":true}},
       {"data":{"name":"e_lines"},"transform":[{"filter":"datum.k === 'fit'"}],"mark":{"type":"line","clip":true,"color":"#000","strokeWidth":3.5},"encoding":{"detail":{"field":"id"}}},
       {"data":{"name":"e_lines"},"transform":[{"filter":"datum.k === 'dash'"}],"mark":{"type":"line","clip":true,"color":"#000","strokeWidth":3.5,"strokeDash":[10,7]},"encoding":{"detail":{"field":"id"}}},
       {"data":{"values":[{"x":495.7,"y":0.845,"t":"High flow"}]},"mark":{"type":"text","fontSize":18,"fontWeight":"bold","color":"#000"},"encoding":{"text":{"field":"t"}}}
      ]
     }
    ]
   }
  ]
 }
]
}
